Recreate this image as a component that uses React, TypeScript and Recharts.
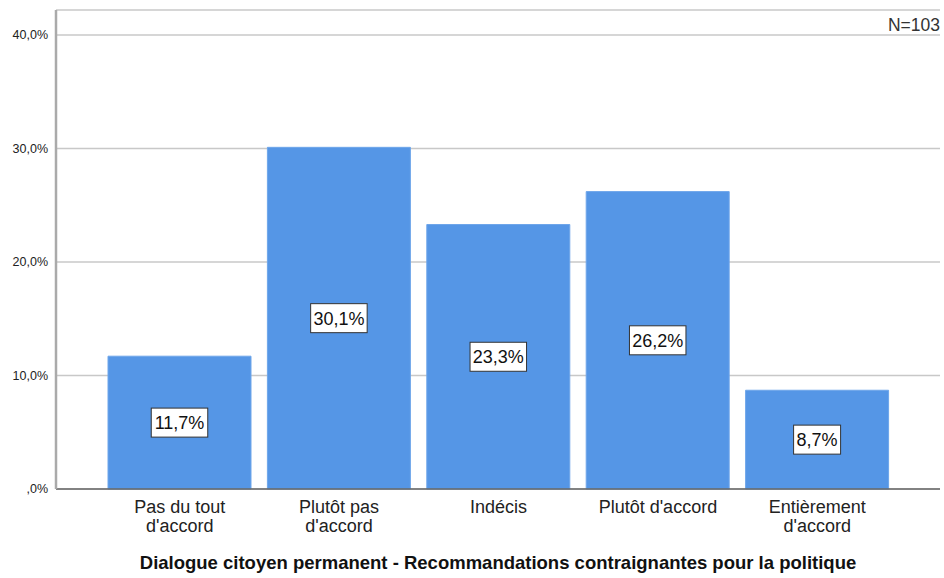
import React from "react";
import { BarChart, Bar, XAxis, YAxis, CartesianGrid, LabelList, Label } from "recharts";

const categories = ["Pas du tout\nd'accord", "Plutôt pas\nd'accord", "Indécis", "Plutôt d'accord", "Entièrement\nd'accord"];
const values = [11.7, 30.1, 23.3, 26.2, 8.7];
const yTicks = [0, 10, 20, 30, 40];
const title = "Dialogue citoyen permanent - Recommandations contraignantes pour la politique";
const nLabel = "N=103";

const data = categories.map((c, i) => ({ name: c, value: values[i] }));
const FONT = "'Liberation Sans', Arial, sans-serif";

const fmtPct = (v: number) => (v === 0 ? ",0%" : v.toFixed(1).replace(".", ",") + "%");

const XTick = (props: any) => {
  const { x, y, payload } = props;
  const lines = String(payload.value).split("\n");
  return (
    <g>
      {lines.map((l: string, i: number) => (
        <text key={i} x={x} y={y + 16 + i * 19} textAnchor="middle" fontSize={18} fill="#222" fontFamily={FONT}>
          {l}
        </text>
      ))}
    </g>
  );
};

const BoxLabel = (props: any) => {
  const { x, y, width, height, value } = props;
  const cx = x + width / 2;
  const cy = y + height / 2;
  const txt = fmtPct(value);
  const w = txt.length * 9.5 + 9;
  const h = 29;
  return (
    <g>
      <rect x={cx - w / 2} y={cy - h / 2} width={w} height={h} fill="#fff" stroke="#333" strokeWidth={1} />
      <text x={cx} y={cy + 6.5} textAnchor="middle" fontSize={18} fill="#111" fontFamily={FONT}>
        {txt}
      </text>
    </g>
  );
};

export default function App() {
  return (
    <div style={{ position: "absolute", left: 0, top: 0, width: 944, height: 578, background: "#fff" }}>
      <BarChart width={944} height={578} data={data} margin={{ top: 10, right: 4, bottom: 0, left: 0 }} barSize={143}>
        <CartesianGrid vertical={false} stroke="#c8c8c8" strokeWidth={1.5} />
        <XAxis
          dataKey="name"
          interval={0}
          tick={<XTick />}
          tickLine={false}
          axisLine={{ stroke: "#666", strokeWidth: 1.5 }}
          padding={{ left: 44, right: 43 }}
          height={89}
        >
          <Label
            value={title}
            position="insideBottom"
            offset={9}
            style={{ fontSize: 18.5, fontWeight: "bold", fill: "#111", fontFamily: FONT }}
          />
        </XAxis>
        <YAxis
          width={56}
          domain={[0, 42.2]}
          ticks={yTicks}
          tickFormatter={fmtPct}
          tickLine={false}
          axisLine={{ stroke: "#aaa", strokeWidth: 2.5 }}
          tick={{ fontSize: 12.5, fill: "#222", fontFamily: FONT }}
          tickMargin={2}
        />
        <Bar dataKey="value" fill="#5596E6" stroke="#6ea6ea" strokeWidth={1} isAnimationActive={false}>
          <LabelList dataKey="value" content={<BoxLabel />} />
        </Bar>
        <text x={940} y={31} textAnchor="end" fontSize={17.5} fill="#333" fontFamily={FONT}>
          {nLabel}
        </text>
      </BarChart>
    </div>
  );
}
